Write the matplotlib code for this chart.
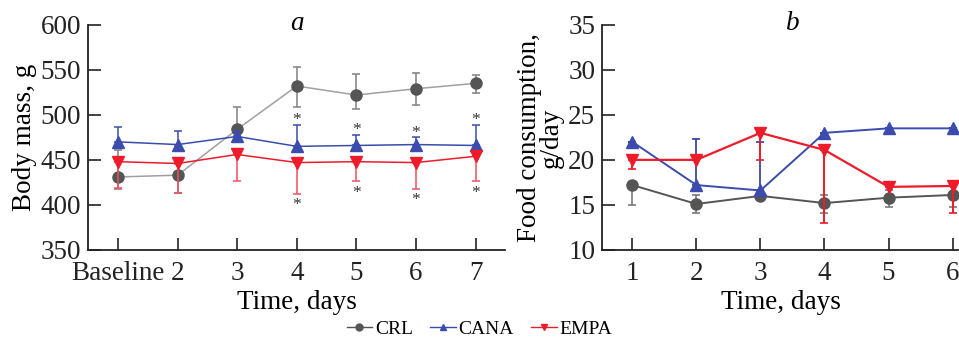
"""Body mass and food consumption over time for CRL, CANA and EMPA groups."""

import matplotlib
matplotlib.use("Agg")
import matplotlib.pyplot as plt
from matplotlib.lines import Line2D

plt.rcParams["font.family"] = ["Liberation Serif", "DejaVu Serif"]

# panel a: body mass, g
mass_days = ["Baseline", "2", "3", "4", "5", "6", "7"]
crl_mass = [431, 433, 484, 532, 522, 529, 535]
crl_mass_lo = [13, 20, 14, 23, 16, 18, 11]
crl_mass_hi = [30, 12, 25, 21, 23, 18, 9]
cana_mass = [470, 467, 476, 465, 466, 467, 466]
cana_mass_hi = [16, 15, 6, 24, 12, 8, 23]
empa_mass = [448, 446, 456, 447, 448, 447, 454]
empa_mass_lo = [29, 33, 30, 35, 22, 29, 28]
mass_sig = [False, False, False, True, True, True, True]

# panel b: food consumption, g/day
food_days = [1, 2, 3, 4, 5, 6]
crl_food = [17.2, 15.1, 16.0, 15.2, 15.8, 16.1]
crl_food_lo = [2.2, 1.0, 0.5, 1.1, 1.0, 1.3]
crl_food_hi = [0.0, 1.0, 0.4, 0.9, 0.9, 0.0]
cana_food = [22.0, 17.2, 16.6, 23.0, 23.5, 23.5]
cana_food_hi = [0.0, 5.1, 5.4, 0.0, 0.0, 0.0]
empa_food = [20.0, 20.0, 23.0, 21.1, 17.0, 17.1]
empa_food_lo = [1.0, 0.0, 3.0, 8.1, 0.0, 3.0]

CRL_MK = "#555555"
CRL_LINE_A = "#a0a0a0"
CANA = "#3b4cae"
EMPA = "#ee1c2a"

TICK_FS = 19.5
LABEL_FS = 19.5


def style_axes(ax):
    for side in ("top", "right"):
        ax.spines[side].set_visible(False)
    for side in ("left", "bottom"):
        ax.spines[side].set_linewidth(1.3)
        ax.spines[side].set_color("#222222")
    ax.tick_params(direction="in", length=9, width=1.2, labelsize=TICK_FS, colors="#222222")
    ax.tick_params(axis="y", pad=5)
    ax.tick_params(axis="x", pad=8)


fig = plt.figure(figsize=(9.59, 3.40), dpi=100)
ax_a = fig.add_axes([0.092, 0.265, 0.435, 0.662])
ax_b = fig.add_axes([0.628, 0.265, 0.372, 0.662])

# ---- panel a
xa = list(range(len(mass_days)))
ax_a.errorbar(xa, crl_mass, yerr=[crl_mass_lo, crl_mass_hi], color=CRL_LINE_A, ecolor="#808080",
              elinewidth=1.1, capsize=3, capthick=1.1, linewidth=1.1, marker="o", markersize=8,
              markerfacecolor=CRL_MK, markeredgecolor=CRL_MK, zorder=2)
ax_a.errorbar(xa, cana_mass, yerr=[[0] * len(xa), cana_mass_hi], color=CANA, ecolor=CANA,
              elinewidth=1.1, capsize=3, capthick=1.1, linewidth=1.1, marker="^", markersize=8,
              zorder=3)
ax_a.errorbar(xa, empa_mass, yerr=[empa_mass_lo, [0] * len(xa)], color=EMPA, ecolor="#f05060",
              elinewidth=1.1, capsize=3, capthick=1.1, linewidth=1.1, marker="v", markersize=8,
              zorder=3)
for x, sig, c, ch, e, el in zip(xa, mass_sig, cana_mass, cana_mass_hi, empa_mass, empa_mass_lo):
    if sig:
        ax_a.text(x, c + ch + 0.5, "*", ha="center", va="baseline", fontsize=12.5, color="#333333")
        ax_a.text(x, e - el - 17, "*", ha="center", va="baseline", fontsize=12.5, color="#333333")

ax_a.set_xlim(-0.5, 6.5)
ax_a.set_ylim(350, 600)
ax_a.set_yticks(range(350, 601, 50))
ax_a.set_xticks(xa)
ax_a.set_xticklabels(mass_days)
ax_a.set_xlabel("Time, days", fontsize=LABEL_FS, labelpad=3)
ax_a.set_ylabel("Body mass, g", fontsize=LABEL_FS, labelpad=3)
ax_a.text(3, 0.978, "a", transform=ax_a.get_xaxis_transform(), ha="center", va="baseline",
          fontsize=LABEL_FS, style="italic")
style_axes(ax_a)

# ---- panel b
ax_b.errorbar(food_days, crl_food, yerr=[crl_food_lo, crl_food_hi], color=CRL_MK, ecolor="#707070",
              elinewidth=1.1, capsize=3, capthick=1.1, linewidth=1.4, marker="o", markersize=8,
              zorder=2)
ax_b.errorbar(food_days, cana_food, yerr=[[0] * len(food_days), cana_food_hi], color=CANA,
              ecolor="#2f3b8f", elinewidth=1.2, capsize=3, capthick=1.2, linewidth=1.4,
              marker="^", markersize=8, zorder=3)
ax_b.errorbar(food_days, empa_food, yerr=[empa_food_lo, [0] * len(food_days)], color=EMPA,
              ecolor=EMPA, elinewidth=1.4, capsize=3, capthick=1.2, linewidth=1.6, marker="v",
              markersize=8, zorder=3)

ax_b.set_xlim(0.53, 6.1)
ax_b.set_ylim(10, 35)
ax_b.set_yticks(range(10, 36, 5))
ax_b.set_xticks(food_days)
ax_b.set_xlabel("Time, days", fontsize=LABEL_FS, labelpad=3)
ax_b.set_ylabel("Food consumption,\ng/day", fontsize=LABEL_FS, labelpad=3, linespacing=0.85)
ax_b.text(3.5, 0.978, "b", transform=ax_b.get_xaxis_transform(), ha="center", va="baseline",
          fontsize=LABEL_FS, style="italic")
style_axes(ax_b)

handles = [
    Line2D([0], [0], color=CRL_MK, marker="o", markersize=5, linewidth=1.0, label="CRL"),
    Line2D([0], [0], color=CANA, marker="^", markersize=5, linewidth=1.0, label="CANA"),
    Line2D([0], [0], color=EMPA, marker="v", markersize=5, linewidth=1.0, label="EMPA"),
]
fig.legend(handles=handles, loc="center", bbox_to_anchor=(0.5, 0.032), ncol=3, frameon=False,
           fontsize=14, handlelength=1.3, handletextpad=0.15, columnspacing=0.9)

fig.savefig("out.png", dpi=100)
plt.close(fig)
